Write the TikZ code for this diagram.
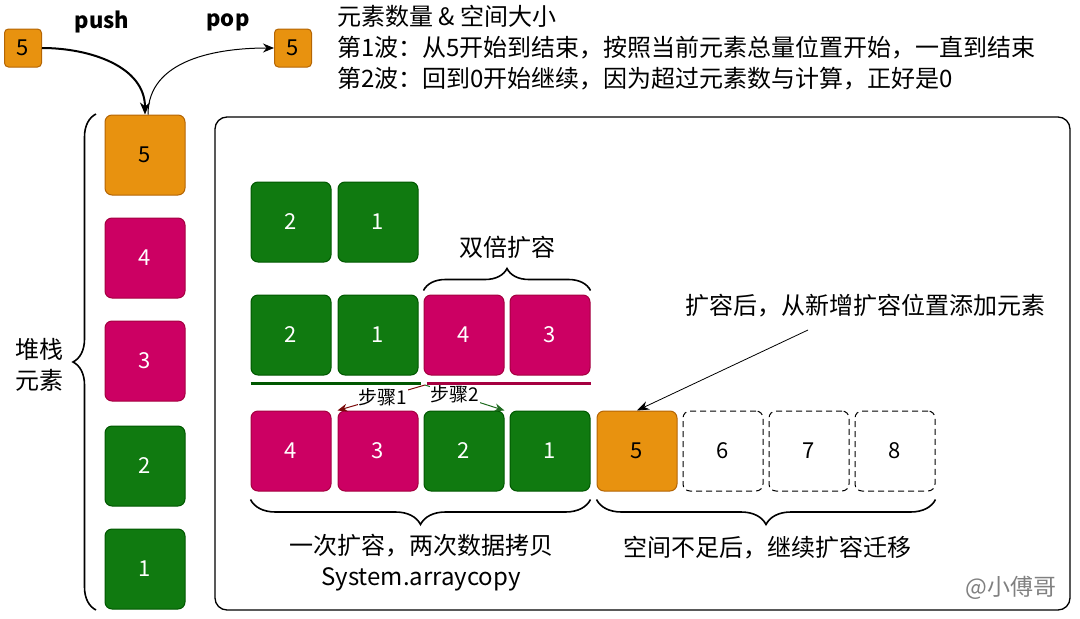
\documentclass[tikz,border=0pt]{standalone}
\usepackage{fontspec}
\setmainfont{Noto Sans CJK SC}
\usepackage{tikz}
\usepackage{xcolor}
\usetikzlibrary{arrows.meta,decorations.pathreplacing}
\definecolor{boxorange}{HTML}{E8920F}
\definecolor{lineorange}{HTML}{B46504}
\definecolor{boxpink}{HTML}{CC0063}
\definecolor{linepink}{HTML}{A50040}
\definecolor{boxgreen}{HTML}{107A10}
\definecolor{linegreen}{HTML}{005700}
\definecolor{stepred}{HTML}{7A0A0A}
\definecolor{stepgreen}{HTML}{1F6B1F}

\begin{document}
\begin{tikzpicture}[x=1pt,y=-1pt,
  cell/.style={draw, rounded corners=7pt, minimum width=80pt, minimum height=80pt, line width=1pt, font=\fontsize{22}{26}\selectfont},
  orangecell/.style={cell, fill=boxorange, draw=lineorange},
  pinkcell/.style={cell, fill=boxpink, draw=linepink, text=white},
  greencell/.style={cell, fill=boxgreen, draw=linegreen, text=white},
  emptycell/.style={cell, draw=black, dash pattern=on 6pt off 4pt},
  tinycell/.style={draw=lineorange, fill=boxorange, rounded corners=4pt, minimum width=37pt, minimum height=38pt, line width=1pt, font=\fontsize{22}{26}\selectfont},
  cntext/.style={font=\fontsize{24}{31}\selectfont, align=center, inner sep=1pt},
  steptext/.style={font=\fontsize{19}{21}\selectfont, fill=white, text=black, inner sep=1pt},
  curly/.style={draw, decorate, line width=1.6pt, decoration={brace, amplitude=#1}},
]
\useasboundingbox (0,0) rectangle (1080,619);

\node[tinycell] (pushin) at (23,48) {5};
\node[tinycell] (popout) at (293,48) {5};
\node[font=\fontsize{22}{26}\selectfont\bfseries] (pushtxt) at (102,22) {push};
\node[font=\fontsize{22}{26}\selectfont\bfseries] (poptxt) at (228,22) {pop};
\node[cntext, align=left, anchor=west] (intro) at (336,48) {元素数量 \& 空间大小\\第1波：从5开始到结束，按照当前元素总量位置开始，一直到结束\\第2波：回到0开始继续，因为超过元素数与计算，正好是0};

\node[orangecell] (s5) at (145,155) {5};
\node[pinkcell] (s4) at (145,258) {4};
\node[pinkcell] (s3) at (145,361) {3};
\node[greencell] (s2) at (145,466) {2};
\node[greencell] (s1) at (145,569) {1};
\draw[curly=23pt] (96,610) -- (96,114);
\node[cntext, align=center] (stacktxt) at (40,365) {堆栈\\元素};

\draw[-{Stealth[length=12pt,width=10pt]}, line width=2pt] (pushin.east) to[out=0,in=90] (s5.north);
\draw[-{Stealth[length=11pt,width=9pt]}, line width=1pt] ([xshift=3pt]s5.north) to[out=90,in=180] (popout.west);

\draw[line width=1.3pt, rounded corners=12pt] (215,117) rectangle (1070,610);

\node[greencell] (a2) at (291,222) {2};
\node[greencell] (a1) at (378,222) {1};

\node[greencell] (b2) at (291,335) {2};
\node[greencell] (b1) at (378,335) {1};
\node[pinkcell] (b4) at (464,335) {4};
\node[pinkcell] (b3) at (550,335) {3};
\draw[curly=22pt] ([yshift=4pt]b4.north west) -- ([yshift=4pt]b3.north east);
\node[cntext] (doubletxt) at (507,247) {双倍扩容};

\node[pinkcell] (c4) at (291,451) {4};
\node[pinkcell] (c3) at (378,451) {3};
\node[greencell] (c2) at (464,451) {2};
\node[greencell] (c1) at (550,451) {1};
\node[orangecell] (c5) at (637,451) {5};
\node[emptycell] (c6) at (723,451) {6};
\node[emptycell] (c7) at (809,451) {7};
\node[emptycell] (c8) at (895,451) {8};

\draw[linegreen, line width=3pt] ([yshift=-8pt]b2.south west) -- ([yshift=-8pt,xshift=2pt]b1.south east);
\draw[linepink, line width=3pt] ([yshift=-8pt,xshift=3pt]b4.south west) -- ([yshift=-8pt]b3.south east);
\coordinate (split) at (425,385);
\draw[stepred, line width=1pt, -{Stealth[length=10pt,width=8pt]}] (split) -- (c3.north west) node[steptext, pos=0.48] (step1) {步骤1};
\draw[stepgreen, line width=1pt, -{Stealth[length=10pt,width=8pt]}] (split) -- (c2.north east) node[steptext, pos=0.38] (step2) {步骤2};

\node[cntext] (note) at (865,306) {扩容后，从新增扩容位置添加元素};
\coordinate (notetail) at (808,330);
\draw[line width=0.8pt, -{Stealth[length=12pt,width=9pt]}] (notetail) -- (c5.north);

\draw[curly=25pt] ([yshift=-8pt]c1.south east) -- ([yshift=-8pt]c4.south west);
\draw[curly=25pt] ([yshift=-8pt]c8.south east) -- ([yshift=-8pt]c5.south west);
\node[cntext] (copytxt) at (421,563) {一次扩容，两次数据拷贝\\System.arraycopy};
\node[cntext] (movetxt) at (767,548) {空间不足后，继续扩容迁移};

\node[font=\fontsize{23}{26}\selectfont, text=gray] (mark) at (1011,588) {@小傅哥};
\end{tikzpicture}
\end{document}
